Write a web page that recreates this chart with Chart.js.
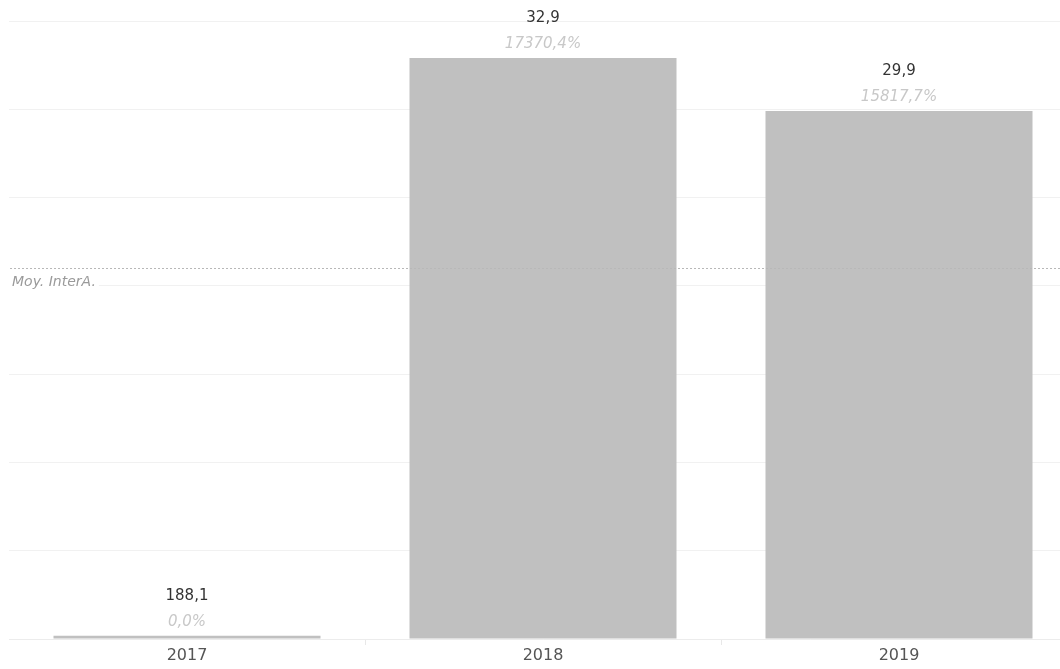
<!DOCTYPE html>
<html lang="fr">
<head>
<meta charset="utf-8">
<title>Montants par année</title>
<script src="https://cdn.jsdelivr.net/npm/chart.js@4/dist/chart.umd.min.js"></script>
<style>
  html, body { margin: 0; padding: 0; background: #fff; overflow: hidden; }
  #graphique { display: block; }
</style>
</head>
<body>
<canvas id="graphique" width="1080" height="669"></canvas>
<script>
// Données
const annees = ["2017", "2018", "2019"];
const montants = [188100, 32900000, 29900000];
const evolutions = [0.0, 17370.4, 15817.7];
const graduations = [0, 5, 10, 15, 20, 25, 30, 35];
const libelleMoyenne = "Moy. InterA.";

const POLICE = "'DejaVu Sans', sans-serif";

// axe en millions
const valeurs = montants.map((v) => v / 1e6);
const moyenne = valeurs.reduce((a, b) => a + b, 0) / valeurs.length;

function formaterMontant(v) {
  const n = v >= 1e6 ? v / 1e6 : v / 1e3;
  return n.toFixed(1).replace(".", ",");
}

function formaterPct(p) {
  return p.toFixed(1).replace(".", ",") + "%";
}

// étiquettes au-dessus des barres + ligne de moyenne
const pluginEtiquettes = {
  id: "etiquettes",
  afterDatasetsDraw(chart) {
    const c = chart.ctx;
    const zone = chart.chartArea;
    const y = chart.scales.y;

    // ligne de moyenne
    const yMoy = Math.round(y.getPixelForValue(moyenne)) + 0.5;
    c.save();
    c.strokeStyle = "#b8b8b8";
    c.lineWidth = 1;
    c.setLineDash([2, 2]);
    c.beginPath();
    c.moveTo(zone.left + 1, yMoy);
    c.lineTo(chart.width, yMoy);
    c.stroke();
    c.setLineDash([]);

    c.font = "italic 14px " + POLICE;
    const larg = c.measureText(libelleMoyenne).width;
    c.fillStyle = "#fff";
    c.fillRect(zone.left, yMoy + 6, larg + 6, 16);
    c.fillStyle = "#9a9a9a";
    c.textAlign = "left";
    c.textBaseline = "middle";
    c.fillText(libelleMoyenne, zone.left + 3, yMoy + 14);

    // valeurs et évolutions
    const meta = chart.getDatasetMeta(0);
    meta.data.forEach((barre, i) => {
      c.textAlign = "center";
      c.textBaseline = "middle";
      c.font = "italic 15px " + POLICE;
      c.fillStyle = "#c8c8c8";
      c.fillText(formaterPct(evolutions[i]), barre.x, barre.y - 14);
      c.font = "15px " + POLICE;
      c.fillStyle = "#333";
      c.fillText(formaterMontant(montants[i]), barre.x, barre.y - 40);
    });
    c.restore();
  },
};

new Chart(document.getElementById("graphique"), {
  type: "bar",
  data: {
    labels: annees,
    datasets: [
      {
        data: valeurs,
        backgroundColor: "#c0c0c0",
        borderWidth: 0,
        barPercentage: 0.75,
        categoryPercentage: 1,
      },
    ],
  },
  options: {
    responsive: false,
    animation: false,
    layout: { padding: { top: 21, left: 9, right: 3, bottom: 0 } },
    plugins: {
      legend: { display: false },
      tooltip: { enabled: false },
    },
    scales: {
      y: {
        min: 0,
        max: 35,
        afterBuildTicks(axe) {
          axe.ticks = graduations.map((v) => ({ value: v }));
        },
        afterFit(axe) {
          axe.width = 0;
        },
        ticks: { display: false },
        grid: { color: "#f1f1f1", drawTicks: false },
        border: { display: false },
      },
      x: {
        afterFit(axe) {
          axe.height = 30;
        },
        grid: {
          offset: true,
          drawOnChartArea: false,
          tickLength: 6,
          color: (ctx) =>
            ctx.index === 0 || ctx.index === annees.length ? "rgba(0,0,0,0)" : "#e8e8e8",
        },
        border: { color: "#ececec" },
        ticks: {
          color: "#555",
          font: { family: POLICE, size: 16 },
          padding: 1,
        },
      },
    },
  },
  plugins: [pluginEtiquettes],
});
</script>
</body>
</html>
